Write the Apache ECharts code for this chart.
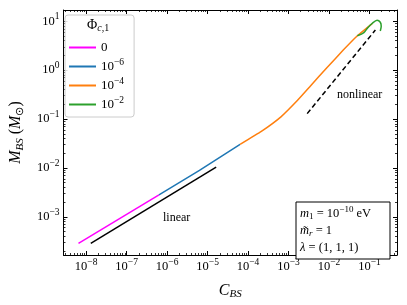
<!DOCTYPE html>
<html><head><meta charset="utf-8">
<script src="https://cdn.jsdelivr.net/npm/echarts@6/dist/echarts.min.js"></script>
<style>html,body{margin:0;padding:0;background:#fff}#c{width:407px;height:305px}</style>
</head><body><div id="c"></div>
<script>
const seriesNames = ['0', '1e-6', '1e-4', '1e-2'];
const phi0C = [6.46e-9, 6.3e-7];
const phi0M = [2.88e-4, 2.82e-3];
const phi6C = [6.3e-7, 6.3e-6, 6.35e-5];
const phi6M = [2.82e-3, 8.9e-3, 3.04e-2];
const phi4C = [6.35e-5, 2.13e-4, 6.50e-4, 1.65e-3, 3.48e-3, 8.85e-3, 2.25e-2, 5.02e-2, 8.79e-2, 0.118];
const phi4M = [3.04e-2, 5.60e-2, 0.111, 0.239, 0.474, 1.12, 2.57, 5.04, 7.40, 9.0];
const phi2C = [5.02e-2, 7.28e-2, 9.10e-2, 0.116, 0.154, 0.185, 0.195, 0.185];
const phi2M = [5.04, 5.87, 7.40, 9.0, 10.5, 9.55, 7.94, 6.31];
const linearC = [1.30e-8, 1.63e-5];
const linearM = [2.86e-4, 1.04e-2];
const nonlinC = [2.89e-3, 0.140];
const nonlinM = [0.129, 6.62];
const xTickExp = [-8, -7, -6, -5, -4, -3, -2, -1];
const yTickExp = [-3, -2, -1, 0, 1];
const xRange = [-8.56, -0.32];   // log10 extent
const yRange = [-3.78, 1.23];

const F = 'Liberation Serif';
const L = Math.log10;
const toPts = (cs, ms) => cs.map((c, i) => [L(c), L(ms[i])]);
function minors(lo, hi) {
  const out = [];
  for (let n = Math.floor(lo) - 1; n <= Math.ceil(hi); n++)
    for (let k = 2; k <= 9; k++) { const v = n + L(k); if (v > lo && v < hi) out.push(v); }
  return out;
}
const supRich = {
  b: {fontFamily: F, fontSize: 12.5, color: '#000'},
  s: {fontFamily: F, fontSize: 9.5, color: '#000', padding: [0, 0, 9, 0]}
};
const expFmt = v => { const e = Math.round(v); return '{b|10}{s|' + (e < 0 ? '\u2212' + (-e) : e) + '}'; };

function mkAxes(range, majors, isY) {
  const base = {type: 'value', min: range[0], max: range[1], splitLine: {show: false}};
  const pos1 = isY ? 'left' : 'bottom', pos2 = isY ? 'right' : 'top';
  const major = (pos, lab) => Object.assign({}, base, {
    position: pos,
    axisLine: {show: true, onZero: false, lineStyle: {color: '#000', width: 1}},
    axisTick: {show: true, inside: true, length: 4, customValues: majors, lineStyle: {color: '#000', width: 1}},
    axisLabel: lab ? {show: true, customValues: majors, formatter: expFmt, rich: supRich, margin: isY ? 4 : 2} : {show: false}
  });
  const minor = pos => Object.assign({}, base, {
    position: pos,
    axisLine: {show: false, onZero: false},
    axisTick: {show: true, inside: true, length: 2, customValues: minors(range[0], range[1]), lineStyle: {color: '#000', width: 0.8}},
    axisLabel: {show: false}
  });
  return [major(pos1, true), minor(pos1), major(pos2, false), minor(pos2)];
}
const xAxes = mkAxes(xRange, xTickExp, false);
xAxes[0].name = '{i|C}{sub|BS}';
xAxes[0].nameLocation = 'middle';
xAxes[0].nameGap = 26;
xAxes[0].nameTextStyle = {rich: {
  i: {fontFamily: F, fontStyle: 'italic', fontSize: 16, color: '#000'},
  sub: {fontFamily: F, fontStyle: 'italic', fontSize: 11, color: '#000', padding: [8, 0, 0, 0]}}};
const yAxes = mkAxes(yRange, yTickExp, true);
yAxes[0].name = '{i|M}{sub|BS}{r| (}{i|M}{sun|\u2299}{r|)}';
yAxes[0].nameLocation = 'middle';
yAxes[0].nameGap = 38;
yAxes[0].nameTextStyle = {rich: {
  i: {fontFamily: F, fontStyle: 'italic', fontSize: 16, color: '#000'},
  r: {fontFamily: F, fontSize: 16, color: '#000'},
  sub: {fontFamily: F, fontStyle: 'italic', fontSize: 11, color: '#000', padding: [8, 0, 0, 0]},
  sun: {fontFamily: F, fontSize: 11, color: '#000', padding: [8, 0, 0, 0]}}};

const colors = ['#ff00ff', '#1f77b4', '#ff7f0e', '#2ca02c'];
const curves = [toPts(phi0C, phi0M), toPts(phi6C, phi6M), toPts(phi4C, phi4M), toPts(phi2C, phi2M)];
const series = curves.map((d, i) => ({
  type: 'line', name: seriesNames[i], data: d, showSymbol: false, symbol: 'none',
  smooth: i === 3 ? 0.3 : (i === 2 ? 0.12 : false), color: colors[i],
  lineStyle: {color: colors[i], width: 1.5}, z: 3 + i
}));
series.push({type: 'line', name: 'linear', data: toPts(linearC, linearM), symbol: 'none',
  lineStyle: {color: '#000', width: 1.5}, color: '#000'});
series.push({type: 'line', name: 'nonlinear', data: toPts(nonlinC, nonlinM), symbol: 'none',
  lineStyle: {color: '#000', width: 1.5, type: [5, 3]}, color: '#000'});

const legRich = {
  b: {fontFamily: F, fontSize: 13, color: '#000'},
  s: {fontFamily: F, fontSize: 9.5, color: '#000', padding: [0, 0, 9, 0]}
};
const legFmt = n => n === '0' ? '{b|0}' : '{b|10}{s|\u2212' + n.split('-')[1] + '}';

const chart = echarts.init(document.getElementById('c'), null, {renderer: 'canvas'});
chart.setOption({
  animation: false,
  backgroundColor: '#fff',
  grid: {left: 58, right: 10, top: 10, bottom: 43, containLabel: false},
  xAxis: xAxes,
  yAxis: yAxes,
  legend: {
    data: seriesNames, orient: 'vertical', left: 65, top: 15,
    icon: 'rect', itemWidth: 27, itemHeight: 2, itemGap: 3,
    padding: [26, 10, 6, 4],
    backgroundColor: 'rgba(255,255,255,0.85)', borderColor: '#cccccc', borderWidth: 1, borderRadius: 3,
    formatter: legFmt, textStyle: {rich: legRich}
  },
  graphic: [
    {type: 'text', left: 87, top: 18, z: 100, style: {
      text: '{r|\u03A6}{s|c}{r2|,1}', rich: {
        r: {fontFamily: F, fontSize: 14, fill: '#000'},
        s: {fontFamily: F, fontStyle: 'italic', fontSize: 10, fill: '#000', padding: [6, 0, 0, 0]},
        r2: {fontFamily: F, fontSize: 10, fill: '#000', padding: [6, 0, 0, 0]}}}},
    {type: 'text', left: 163, top: 212, style: {text: 'linear', font: '12px "Liberation Serif"', fill: '#000'}},
    {type: 'text', left: 337, top: 89, style: {text: 'nonlinear', font: '12px "Liberation Serif"', fill: '#000'}},
    {type: 'rect', shape: {x: 296, y: 202, width: 94, height: 57}, style: {fill: '#fff', stroke: '#000', lineWidth: 1}, z: 50},
    {type: 'text', left: 300, top: 205, z: 51, style: {
      text: '{i|m}{sb|1}{r| = 10}{sp|\u221210}{r| eV}\n{i|m\u0303}{si|r}{r| = 1}\n{i|\u03BB}{r| = (1, 1, 1)}',
      rich: {
        i: {fontFamily: F, fontStyle: 'italic', fontSize: 12.5, fill: '#000', lineHeight: 17},
        r: {fontFamily: F, fontSize: 12.5, fill: '#000', lineHeight: 17},
        sb: {fontFamily: F, fontSize: 9, fill: '#000', padding: [6, 0, 0, 0], lineHeight: 17},
        si: {fontFamily: F, fontStyle: 'italic', fontSize: 9, fill: '#000', padding: [6, 0, 0, 0], lineHeight: 17},
        sp: {fontFamily: F, fontSize: 9, fill: '#000', padding: [0, 0, 9, 0], lineHeight: 17}}}}
  ],
  series: series
});
</script></body></html>
